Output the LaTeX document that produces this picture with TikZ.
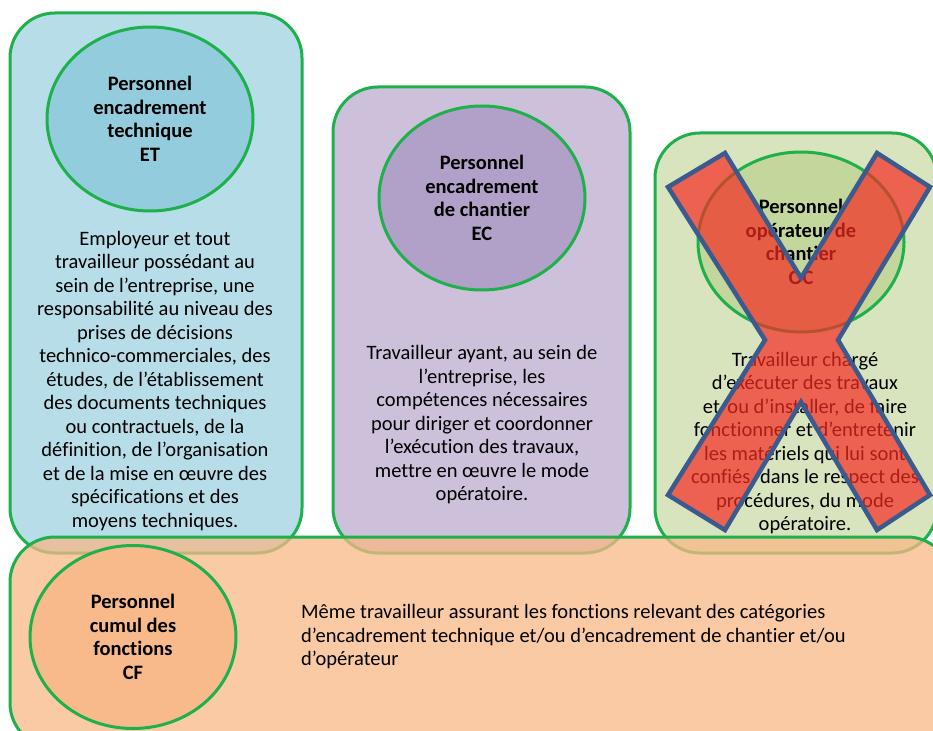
\documentclass[tikz,border=0pt]{standalone}
\usepackage{fontspec}
\setmainfont{Carlito}[Ligatures=NoCommon]
\usetikzlibrary{shapes.geometric}

\definecolor{cadre}{HTML}{1DB04B}
\definecolor{bleuclair}{HTML}{B7DDE8}
\definecolor{bleufonce}{HTML}{93CDDD}
\definecolor{violetclair}{HTML}{CCC0DA}
\definecolor{violetfonce}{HTML}{B1A0C7}
\definecolor{vertclair}{HTML}{D7E4BD}
\definecolor{vertfonce}{HTML}{C3D69B}
\definecolor{orangeclair}{HTML}{F8B887}
\definecolor{orangefonce}{HTML}{F9BA8B}
\definecolor{rougex}{HTML}{F62A22}
\definecolor{bleux}{HTML}{3B5A8E}

\begin{document}
\fontsize{20.5}{23.5}\selectfont
\begin{tikzpicture}[x=1pt,y=-1pt,
  cadrebox/.style={draw=cadre, line width=3pt, rounded corners=45pt},
  rond/.style={ellipse, draw=cadre, line width=3pt, inner sep=0pt,
    minimum width=206pt, minimum height=184pt, align=center, font=\bfseries},
  texte/.style={align=center, inner sep=0pt},
  croix/.style={fill=rougex, fill opacity=0.7, draw=bleux, line width=4.5pt, line join=miter}]

\useasboundingbox (0,0) rectangle (933,730);
\clip (0,0) rectangle (933,730);

% Draw the three upper boxes
\filldraw[cadrebox, fill=bleuclair] (10,13) rectangle (302,553);
\filldraw[cadrebox, fill=violetclair] (333,87) rectangle (630,553);
\filldraw[cadrebox, fill=vertclair] (655,133) rectangle (937,553);

% Encadrement technique
\node[rond, fill=bleufonce] (ET) at (150,119) {Personnel\\encadrement\\technique\\ET};
\node[texte] (ETdef) at (155,381) {Employeur et tout\\travailleur possédant au\\sein de l’entreprise, une\\responsabilité au niveau des\\prises de décisions\\technico-commerciales, des\\études, de l’établissement\\des documents techniques\\ou contractuels, de la\\définition, de l’organisation\\et de la mise en œuvre des\\spécifications et des\\moyens techniques.};

% Encadrement de chantier
\node[rond, fill=violetfonce] (EC) at (482,198) {Personnel\\encadrement\\de chantier\\EC};
\node[texte] (ECdef) at (482,425) {Travailleur ayant, au sein de\\l’entreprise, les\\compétences nécessaires\\pour diriger et coordonner\\l’exécution des travaux,\\mettre en œuvre le mode\\opératoire.};

% Operateur de chantier
\node[rond, fill=vertfonce, minimum height=180pt] (OC) at (801,242) {Personnel\\opérateur de\\chantier\\OC};
\node[texte] (OCdef) at (805,443) {Travailleur chargé\\d’exécuter des travaux\\et/ou d’installer, de faire\\fonctionner et d’entretenir\\les matériels qui lui sont\\confiés, dans le respect des\\procédures, du mode\\opératoire.};

% Draw the cross over OC
\filldraw[croix] (668,187) -- (725,153) -- (801,278) -- (877,153) -- (930,187)
  -- (838,340) -- (930,495) -- (877,530) -- (801,402) -- (725,530)
  -- (668,495) -- (765,340) -- cycle;

% Cumul des fonctions
\filldraw[cadrebox, fill=orangeclair, fill opacity=0.75] (10,537) rectangle (952,748);
\node[rond, fill=orangefonce, minimum height=183pt] (CF) at (133,637) {Personnel\\cumul des\\fonctions\\CF};
\node[texte, align=left, anchor=west] (CFdef) at (301,637) {Même travailleur assurant les fonctions relevant des catégories\\d’encadrement technique et/ou d’encadrement de chantier et/ou\\d’opérateur};

\end{tikzpicture}
\end{document}
